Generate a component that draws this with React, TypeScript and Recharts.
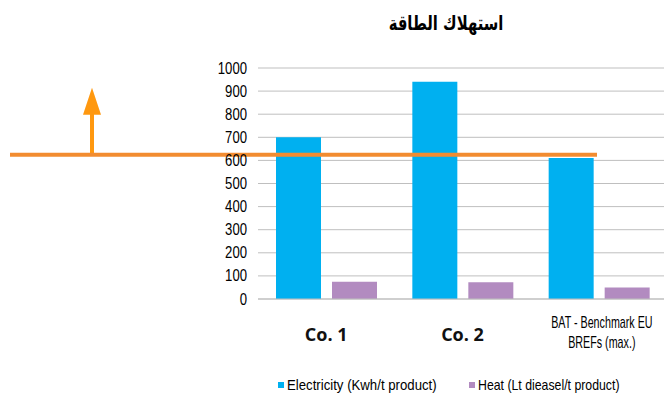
import React from 'react';
import { BarChart, Bar, XAxis, YAxis, CartesianGrid, Legend, ReferenceLine } from 'recharts';

// values
const categories = ['Co. 1', 'Co. 2', 'BAT - Benchmark EU BREFs (max.)'];
const electricity = [700, 940, 610];
const heat = [75, 72, 50];
const benchmark = 625;
const yTicks = [0, 100, 200, 300, 400, 500, 600, 700, 800, 900, 1000];
const seriesNames = ['Electricity (Kwh/t product)', 'Heat (Lt dieasel/t product)'];
const title = 'استهلاك الطاقة';

const BLUE = '#00B0F0';
const PURPLE = '#B28BC0';
const ORANGE = '#F28C30';
const ARROW = '#FF980F';
const SANS = '"Liberation Sans", Arial, sans-serif';

const data = categories.map((name, i) => ({
  name,
  electricity: electricity[i],
  heat: heat[i],
}));

// narrow look of the original labels: squeeze Liberation Sans horizontally
const ValueTick = (props: any) => {
  const { x, y, payload } = props;
  return (
    <g transform={`translate(${x},${y}) scale(0.82,1)`}>
      <text x={0} y={0} dy={5.5} textAnchor="end" fontFamily={SANS} fontSize={16} fill="#000">
        {payload.value}
      </text>
    </g>
  );
};

const CategoryTick = (props: any) => {
  const { x, y, payload } = props;
  const label: string = payload.value;
  if (label.startsWith('BAT')) {
    return (
      <g transform={`translate(${x + 3},${y}) scale(0.67,1)`}>
        <text textAnchor="middle" fontFamily={SANS} fontSize={16} fill="#000">
          <tspan x={0} y={27}>BAT - Benchmark EU</tspan>
          <tspan x={0} y={47}>BREFs (max.)</tspan>
        </text>
      </g>
    );
  }
  return (
    <text x={x} y={y + 40} textAnchor="middle" fontFamily="'Open Sans', sans-serif" fontWeight={700} fontSize={18} fill="#111">
      {label}
    </text>
  );
};

// orange benchmark line running out to the left edge, with the upward arrow
const BenchmarkShape = (props: any) => {
  const { x1, x2, y1 } = props;
  const left = x1 - 248;
  const right = x2 - 70;
  const ax = left + 82;
  return (
    <g>
      <line x1={ax} y1={y1} x2={ax} y2={y1 - 44} stroke={ARROW} strokeWidth={4} />
      <polygon points={`${ax},${y1 - 67} ${ax - 9},${y1 - 40} ${ax + 9},${y1 - 40}`} fill={ARROW} />
      <line x1={left} y1={y1} x2={right} y2={y1} stroke={ORANGE} strokeWidth={4} />
    </g>
  );
};

const LegendItem = ({ color, label, width, squeeze }: { color: string; label: string; width: number; squeeze: number }) => (
  <div style={{ display: 'flex', alignItems: 'center', width }}>
    <span style={{ width: 6, height: 6, background: color, marginRight: 3, flex: 'none' }} />
    <span style={{ display: 'inline-block', transform: `scaleX(${squeeze})`, transformOrigin: 'left center', whiteSpace: 'nowrap' }}>
      {label}
    </span>
  </div>
);

const LegendContent = () => (
  <div style={{ display: 'flex', fontFamily: SANS, fontSize: 15, color: '#000', lineHeight: '16px' }}>
    <LegendItem color={BLUE} label={seriesNames[0]} width={191} squeeze={0.88} />
    <LegendItem color={PURPLE} label={seriesNames[1]} width={160} squeeze={0.82} />
  </div>
);

export default function App() {
  return (
    <div style={{ position: 'absolute', left: 0, top: 0, width: 664, height: 401, overflow: 'hidden', background: '#fff' }}>
      <div
        style={{
          position: 'absolute',
          top: 11,
          left: 446,
          transform: 'translateX(-50%) scaleX(0.74)',
          fontFamily: '"DejaVu Sans", sans-serif',
          fontWeight: 700,
          fontSize: 20,
          direction: 'rtl',
          whiteSpace: 'nowrap',
        }}
      >
        {title}
      </div>
      <BarChart
        width={680}
        height={401}
        data={data}
        margin={{ top: 68, right: 13, bottom: 0, left: 0 }}
        barGap={11}
        barSize={45}
      >
        <CartesianGrid vertical={false} stroke="#BFBFBF" strokeWidth={1} />
        <XAxis
          dataKey="name"
          height={102}
          tickLine={false}
          tickSize={0}
          axisLine={{ stroke: '#BFBFBF' }}
          interval={0}
          tick={<CategoryTick />}
        />
        <YAxis
          width={258}
          domain={[0, 1000]}
          ticks={yTicks}
          interval={0}
          tickLine={false}
          axisLine={false}
          tickSize={0}
          tickMargin={11}
          tick={<ValueTick />}
        />
        <Legend
          layout="horizontal"
          verticalAlign="middle"
          align="center"
          wrapperStyle={{ top: 377, left: 278, width: 400, height: 18 }}
          content={<LegendContent />}
        />
        <Bar dataKey="electricity" name={seriesNames[0]} fill={BLUE} isAnimationActive={false} />
        <Bar dataKey="heat" name={seriesNames[1]} fill={PURPLE} isAnimationActive={false} />
        <ReferenceLine y={benchmark} ifOverflow="visible" shape={<BenchmarkShape />} />
      </BarChart>
    </div>
  );
}
